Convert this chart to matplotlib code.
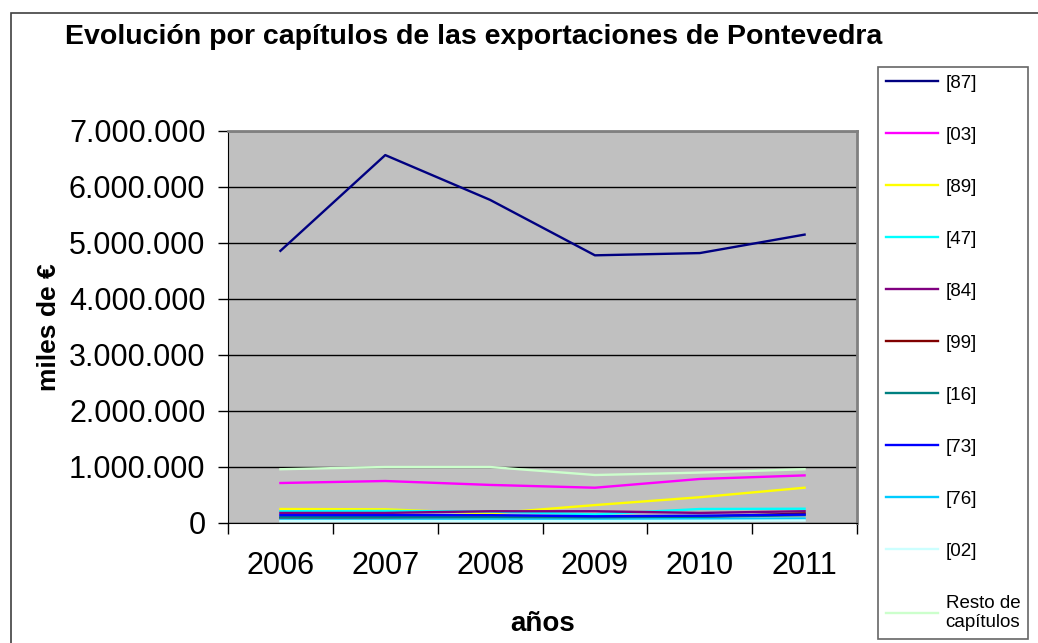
import matplotlib
matplotlib.use("Agg")
from matplotlib import pyplot as plt
from matplotlib.patches import Rectangle
from matplotlib.ticker import FuncFormatter, FixedLocator

plt.rcParams['font.family'] = ['Liberation Sans', 'DejaVu Sans']

years = ["2006", "2007", "2008", "2009", "2010", "2011"]

# miles de euros
s87 = [4860000, 6570000, 5770000, 4780000, 4820000, 5150000]
s03 = [714000, 750000, 680000, 630000, 786000, 850000]
s89 = [250000, 245000, 170000, 320000, 460000, 630000]
s47 = [210000, 215000, 205000, 155000, 250000, 255000]
s84 = [180000, 180000, 210000, 210000, 180000, 210000]
s99 = [90000, 95000, 100000, 100000, 110000, 170000]
s16 = [110000, 110000, 110000, 100000, 110000, 140000]
s73 = [140000, 140000, 140000, 120000, 130000, 150000]
s76 = [60000, 60000, 65000, 60000, 70000, 80000]
s02 = [35000, 35000, 35000, 35000, 40000, 45000]
resto = [960000, 1000000, 1000000, 857000, 900000, 960000]

series = [
    ("[87]", s87, "#000080"),
    ("[03]", s03, "#FF00FF"),
    ("[89]", s89, "#FFFF00"),
    ("[47]", s47, "#00FFFF"),
    ("[84]", s84, "#800080"),
    ("[99]", s99, "#800000"),
    ("[16]", s16, "#008080"),
    ("[73]", s73, "#0000FF"),
    ("[76]", s76, "#00CCFF"),
    ("[02]", s02, "#CCFFFF"),
    ("Resto de\ncapítulos", resto, "#CCFFCC"),
]

fig = plt.figure(figsize=(10.38, 6.43), dpi=100)
fig.patches.append(Rectangle((11 / 1038, -0.1), 1.2, (643 - 13) / 643 + 0.1,
                             transform=fig.transFigure, fill=False,
                             edgecolor="#404040", linewidth=1.2))

ax = fig.add_axes([228 / 1038, 1 - 523 / 643, 629 / 1038, 392 / 643])
ax.set_facecolor("#C0C0C0")

x = list(range(len(years)))
for name, vals, col in series:
    ax.plot(x, vals, color=col, linewidth=1.7, label=name)

ax.set_xlim(-0.5, 5.5)
ax.set_ylim(0, 7000000)
ax.set_yticks(range(0, 7000001, 1000000))
ax.yaxis.set_major_formatter(FuncFormatter(lambda v, p: f"{int(v):,}".replace(",", ".")))
ax.yaxis.grid(True, color="black", linewidth=1)
ax.set_axisbelow(True)

ax.set_xticks(x)
ax.set_xticklabels(years)
ax.xaxis.set_minor_locator(FixedLocator([i - 0.5 for i in range(7)]))
ax.tick_params(axis="x", which="major", length=0, pad=20, labelsize=22)
ax.tick_params(axis="x", which="minor", length=8, width=1, direction="out")
ax.tick_params(axis="y", length=7.2, width=1, direction="out", labelsize=22, pad=9)

for side in ["top", "right"]:
    ax.spines[side].set_color("#808080")
    ax.spines[side].set_linewidth(2)
ax.spines["left"].set_color("black")
ax.spines["bottom"].set_color("black")

ax.set_xlabel("años", fontsize=20, fontweight="bold", labelpad=22)
ax.set_ylabel("miles de €", fontsize=19, fontweight="bold", labelpad=6)

fig.text(474 / 1038, 1 - 37 / 643, "Evolución por capítulos de las exportaciones de Pontevedra",
         ha="center", va="center", fontsize=20.5, fontweight="bold")

leg = fig.legend(loc="upper left", bbox_to_anchor=(878 / 1038, 1 - 67 / 643),
                 fontsize=13.5, handlelength=2.8, handletextpad=0.4, labelspacing=1.86,
                 frameon=True, fancybox=False, borderpad=0.4, borderaxespad=0)
leg.get_frame().set_edgecolor("#404040")
leg.get_frame().set_linewidth(1.2)

plt.savefig("out.png", dpi=100)
